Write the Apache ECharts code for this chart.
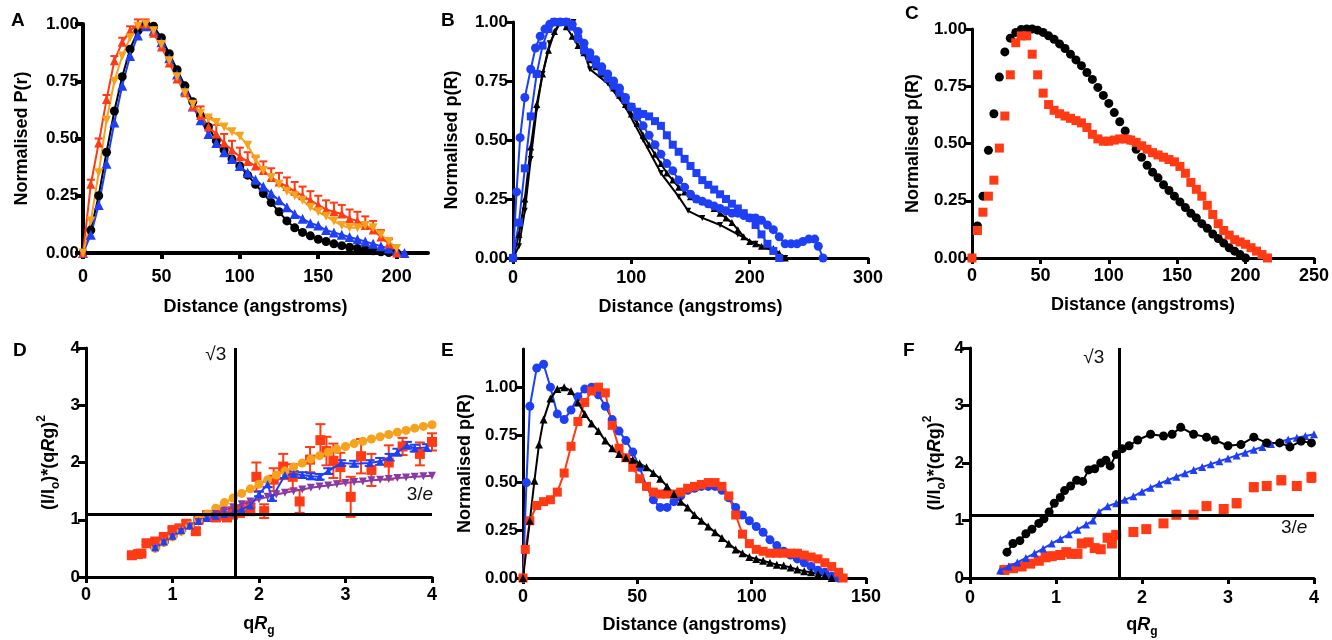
<!DOCTYPE html>
<html><head><meta charset="utf-8">
<script src="https://cdn.jsdelivr.net/npm/echarts@6/dist/echarts.min.js"></script>
<style>html,body{margin:0;padding:0;background:#fff}#c{width:1332px;height:640px}</style>
</head><body><div id="c"></div>
<script>
// ---------------- DATA ----------------
// Panel A
const A_x = [0,5,10,15,20,25,30,35,40,45,50,55,60,65,70,75,80,85,90,95,100,105,110,115,120,125,130,135,140,145,150,155,160,165,170,175,180,185,190,195,200];
const A_xBlue = [0,5,10,15,20,25,30,35,40,45,50,55,60,65,70,75,80,85,90,95,100,105,110,115,120,125,130,135,140,145,150,155,160,165,170,175,180,185,190,195,200,205];
const A_black = [0,0.1,0.25,0.44,0.62,0.77,0.89,0.97,1.0,0.99,0.94,0.87,0.8,0.73,0.66,0.6,0.55,0.49,0.45,0.41,0.38,0.34,0.3,0.26,0.22,0.18,0.14,0.11,0.09,0.075,0.06,0.05,0.04,0.032,0.025,0.02,0.015,0.01,0.005,0.002,0];
const A_blue = [0,0.08,0.21,0.39,0.57,0.73,0.86,0.95,0.99,0.97,0.92,0.85,0.78,0.71,0.64,0.58,0.52,0.48,0.44,0.41,0.38,0.35,0.32,0.29,0.26,0.23,0.2,0.17,0.15,0.13,0.12,0.1,0.09,0.08,0.07,0.06,0.05,0.04,0.03,0.02,0.01,0];
const A_red = [0,0.3,0.48,0.67,0.84,0.92,0.97,1.0,1.0,0.96,0.9,0.83,0.76,0.7,0.64,0.6,0.55,0.52,0.48,0.45,0.42,0.4,0.38,0.36,0.33,0.31,0.29,0.27,0.25,0.23,0.21,0.19,0.18,0.17,0.15,0.14,0.12,0.1,0.07,0.04,0];
const A_redErr = [0,0.02,0.02,0.02,0.02,0.02,0.02,0.02,0.02,0.02,0.02,0.02,0.03,0.03,0.03,0.04,0.04,0.04,0.04,0.04,0.04,0.04,0.04,0.04,0.04,0.04,0.04,0.04,0.04,0.04,0.04,0.04,0.04,0.04,0.04,0.04,0.04,0.04,0.03,0.02,0];
const A_orange = [0,0.14,0.35,0.58,0.75,0.86,0.94,0.99,1.0,0.97,0.91,0.84,0.77,0.7,0.65,0.61,0.59,0.57,0.55,0.53,0.51,0.47,0.41,0.36,0.33,0.3,0.27,0.25,0.23,0.2,0.18,0.16,0.14,0.12,0.11,0.11,0.12,0.11,0.08,0.05,0.02];

// Panel B
const B_xCirc = [0,3,6,10,15,19,23,27,31,35,40,45,50,55,60,65,70,75,80,85,90,95,100,105,110,115,120,125,130,135,140,145,150,155,160,165,170,175,180,185,190,195,200,205,210,215,220,225,230,235,240,245,250,255,258,262];
const B_blueCirc = [0,0.28,0.51,0.68,0.8,0.89,0.94,0.97,0.99,1.0,1.0,1.0,0.99,0.96,0.91,0.87,0.84,0.81,0.78,0.75,0.72,0.68,0.64,0.6,0.56,0.52,0.48,0.44,0.4,0.37,0.33,0.3,0.27,0.25,0.24,0.23,0.22,0.21,0.2,0.19,0.19,0.18,0.17,0.17,0.16,0.14,0.12,0.09,0.06,0.06,0.06,0.07,0.08,0.08,0.05,0];
const B_xSq = [0,5,10,15,20,25,30,35,40,45,50,55,60,65,70,75,80,85,90,95,100,105,110,115,120,125,130,135,140,145,150,155,160,165,170,175,180,185,190,195,200,205,210,215,220,225];
const B_blueSq = [0,0.15,0.38,0.6,0.78,0.9,0.97,1.0,1.0,1.0,0.98,0.93,0.88,0.85,0.82,0.79,0.76,0.73,0.7,0.67,0.64,0.62,0.61,0.6,0.58,0.56,0.52,0.48,0.45,0.42,0.39,0.36,0.33,0.31,0.29,0.27,0.25,0.23,0.21,0.19,0.17,0.14,0.1,0.06,0.03,0];
const B_xTri = [0,5,10,15,20,25,30,35,40,45,50,55,60,65,70,75,80,85,90,95,100,105,110,115,120,125,130,135,140,145,150,155,160,165,170,175,180,185,190,195,200,205,210,215,220,225,230];
const B_blackTri = [0,0.1,0.25,0.47,0.65,0.78,0.88,0.96,1.0,0.98,0.94,0.9,0.87,0.84,0.81,0.78,0.76,0.72,0.69,0.65,0.61,0.57,0.52,0.48,0.44,0.4,0.36,0.33,0.3,0.28,0.26,0.25,0.24,0.23,0.21,0.19,0.17,0.15,0.12,0.09,0.07,0.06,0.05,0.05,0.04,0.02,0];
const B_xLine = [0,5,10,15,20,25,31,40,51,65,80,95,110,125,140,148,160,175,190,205,220,230];
const B_blackLine = [0,0.05,0.2,0.42,0.63,0.78,0.91,1.0,1.0,0.8,0.74,0.64,0.5,0.36,0.26,0.2,0.17,0.14,0.1,0.06,0.03,0];

// Panel C
const C_xBlack = [0,4,8,12,16,20,24,28,32,36,40,44,48,52,56,60,64,68,72,76,80,84,88,92,96,100,104,108,112,116,120,124,128,132,136,140,144,148,152,156,160,164,168,172,176,180,184,188,192,196,200];
const C_black = [0,0.14,0.27,0.47,0.63,0.79,0.9,0.96,0.985,0.998,1.0,1.0,0.995,0.985,0.97,0.955,0.935,0.915,0.89,0.865,0.84,0.81,0.78,0.745,0.71,0.675,0.635,0.595,0.555,0.515,0.475,0.44,0.405,0.375,0.35,0.32,0.295,0.27,0.245,0.22,0.195,0.175,0.15,0.13,0.105,0.085,0.065,0.045,0.03,0.015,0];
const C_xRed = [0,4,8,12,16,20,24,28,32,36,40,44,48,52,56,60,64,68,72,76,80,84,88,92,96,100,104,108,112,116,120,124,128,132,136,140,144,148,152,156,160,164,168,172,176,180,184,188,192,196,200,204,208,212,216];
const C_red = [0,0.12,0.2,0.27,0.34,0.48,0.62,0.8,0.94,0.97,0.97,0.89,0.8,0.72,0.67,0.645,0.63,0.62,0.61,0.6,0.59,0.57,0.54,0.52,0.51,0.51,0.515,0.52,0.52,0.515,0.505,0.49,0.475,0.46,0.45,0.44,0.43,0.42,0.4,0.37,0.33,0.3,0.27,0.23,0.19,0.15,0.12,0.1,0.08,0.07,0.06,0.045,0.03,0.015,0];

// Panel D
const D_x = [0.8,0.9,1.0,1.1,1.2,1.3,1.4,1.5,1.6,1.7,1.8,1.9,2.0,2.1,2.2,2.3,2.4,2.5,2.6,2.7,2.8,2.9,3.0,3.1,3.2,3.3,3.4,3.5,3.6,3.7,3.8,3.9,4.0];
const D_orange = [0.5,0.6,0.7,0.8,0.9,1.0,1.1,1.2,1.3,1.38,1.46,1.54,1.62,1.7,1.78,1.85,1.92,1.99,2.06,2.12,2.18,2.23,2.28,2.33,2.37,2.41,2.45,2.49,2.53,2.56,2.6,2.63,2.66];
const D_purple = [0.5,0.6,0.7,0.79,0.88,0.96,1.03,1.1,1.16,1.22,1.27,1.32,1.36,1.4,1.44,1.47,1.5,1.53,1.56,1.58,1.6,1.62,1.64,1.66,1.67,1.69,1.7,1.71,1.73,1.74,1.75,1.76,1.77];
const D_xBlue = [0.8,0.9,1.0,1.1,1.2,1.3,1.4,1.5,1.6,1.7,1.8,1.9,2.0,2.1,2.15,2.3,2.4,2.5,2.6,2.7,2.8,2.95,3.1,3.28,3.4,3.51,3.6,3.71,3.8,3.94];
const D_blue = [0.52,0.62,0.72,0.82,0.9,0.98,1.03,1.07,1.1,1.12,1.18,1.25,1.45,1.62,1.38,1.78,1.8,1.78,1.76,1.75,1.85,1.99,1.98,1.99,2.02,2.09,2.18,2.3,2.25,2.26];
const D_blueErr = [0.02,0.02,0.02,0.02,0.02,0.02,0.02,0.02,0.03,0.03,0.03,0.03,0.04,0.05,0.05,0.05,0.05,0.05,0.05,0.05,0.05,0.05,0.05,0.05,0.06,0.06,0.06,0.06,0.06,0.06];
const D_xRed = [0.53,0.6,0.64,0.7,0.8,0.9,1.0,1.08,1.16,1.27,1.3,1.4,1.5,1.55,1.63,1.7,1.78,1.9,1.97,2.06,2.17,2.28,2.39,2.47,2.59,2.71,2.78,2.86,2.94,3.06,3.18,3.3,3.5,3.66,3.86,4.0];
const D_red = [0.38,0.4,0.41,0.59,0.62,0.7,0.82,0.85,0.93,0.8,1.0,1.08,1.05,1.1,1.05,1.12,1.15,1.2,1.75,1.15,1.7,1.93,1.75,1.32,2.05,2.39,2.2,2.03,1.92,1.4,2.11,1.87,2.0,2.28,2.15,2.36];
const D_redErr = [0.02,0.02,0.02,0.03,0.03,0.04,0.04,0.05,0.05,0.05,0.06,0.06,0.08,0.1,0.08,0.1,0.1,0.12,0.25,0.12,0.2,0.22,0.22,0.2,0.22,0.28,0.25,0.3,0.25,0.35,0.3,0.28,0.3,0.15,0.2,0.15];

// Panel E
const E_xBlue = [0,1.5,3,6,9,12,15,18,21,24,27,30,33,36,39,42,45,48,51,54,57,60,63,66,69,72,75,78,81,84,87,90,93,96,99,102,105,108,111,114,117,120,123,126,129,132,135,138];
const E_blue = [0,0.5,0.9,1.1,1.12,1.0,0.86,0.83,0.88,0.95,0.99,1.0,0.96,0.9,0.83,0.77,0.72,0.66,0.58,0.48,0.41,0.37,0.37,0.4,0.43,0.46,0.47,0.48,0.48,0.48,0.46,0.42,0.37,0.33,0.3,0.27,0.24,0.2,0.17,0.14,0.12,0.1,0.08,0.06,0.04,0.03,0.01,0];
const E_xRed = [0,1,3,6,9,12,15,18,21,24,27,30,33,36,39,42,45,48,51,54,57,60,63,66,69,72,75,78,81,84,87,90,93,96,99,102,105,108,111,114,117,120,123,126,129,132,135,138,140];
const E_red = [0,0.15,0.3,0.38,0.4,0.41,0.45,0.55,0.69,0.82,0.92,0.98,1.0,0.97,0.8,0.68,0.63,0.58,0.52,0.48,0.45,0.44,0.44,0.44,0.45,0.47,0.48,0.49,0.5,0.5,0.48,0.43,0.33,0.23,0.18,0.15,0.14,0.13,0.13,0.13,0.13,0.13,0.12,0.11,0.1,0.08,0.06,0.03,0];
const E_xBlack = [0,3,5,7,9,12,15,18,21,24,27,30,33,36,39,42,45,48,51,54,57,60,63,66,69,72,75,78,81,84,87,90,93,96,99,102,105,108,111,114,117,120,123,126,129,132,135];
const E_black = [0,0.3,0.51,0.7,0.83,0.94,0.99,1.0,0.98,0.92,0.86,0.81,0.77,0.72,0.68,0.65,0.63,0.62,0.6,0.58,0.55,0.52,0.48,0.44,0.4,0.37,0.33,0.3,0.27,0.24,0.21,0.18,0.15,0.13,0.11,0.1,0.09,0.08,0.07,0.065,0.055,0.045,0.035,0.03,0.02,0.01,0];

// Panel F
const F_xBlack = [0.43,0.5,0.58,0.65,0.72,0.8,0.86,0.92,0.98,1.05,1.1,1.17,1.24,1.31,1.38,1.45,1.52,1.58,1.63,1.7,1.77,1.85,1.95,2.1,2.25,2.35,2.45,2.6,2.75,2.85,3.0,3.15,3.3,3.45,3.6,3.72,3.85,3.97];
const F_black = [0.45,0.6,0.65,0.77,0.85,0.95,1.03,1.15,1.3,1.4,1.52,1.6,1.7,1.68,1.88,1.9,2.0,2.05,1.95,2.15,2.25,2.3,2.4,2.5,2.47,2.5,2.62,2.5,2.45,2.4,2.3,2.32,2.45,2.35,2.35,2.28,2.38,2.35];
const F_xBlue = [0.35,0.45,0.55,0.65,0.75,0.85,0.95,1.05,1.15,1.25,1.35,1.43,1.5,1.6,1.7,1.8,1.9,2.0,2.1,2.2,2.3,2.4,2.5,2.6,2.7,2.8,2.9,3.0,3.1,3.2,3.3,3.4,3.5,3.6,3.7,3.8,3.9,4.0];
const F_blue = [0.13,0.2,0.27,0.35,0.43,0.51,0.6,0.68,0.76,0.84,0.93,1.0,1.15,1.25,1.3,1.36,1.42,1.5,1.57,1.64,1.7,1.76,1.82,1.88,1.93,1.98,2.03,2.08,2.13,2.18,2.23,2.28,2.33,2.37,2.41,2.44,2.47,2.5];
const F_xRed = [0.4,0.5,0.6,0.7,0.8,0.88,0.95,1.05,1.12,1.18,1.25,1.3,1.38,1.45,1.52,1.6,1.65,1.7,1.9,2.05,2.25,2.4,2.6,2.75,2.95,3.1,3.3,3.45,3.62,3.8,3.97];
const F_red = [0.14,0.17,0.2,0.25,0.3,0.36,0.38,0.4,0.45,0.42,0.42,0.6,0.62,0.52,0.5,0.7,0.6,0.75,0.8,0.85,0.95,1.1,1.1,1.25,1.2,1.3,1.58,1.6,1.7,1.6,1.75];
const F_redErr = [0.02,0.02,0.02,0.02,0.02,0.03,0.03,0.03,0.03,0.03,0.03,0.04,0.04,0.04,0.04,0.05,0.05,0.05,0.05,0.05,0.05,0.06,0.06,0.06,0.06,0.07,0.07,0.07,0.07,0.07,0.08];

// Axis tick labels
const ticksA = [0,50,100,150,200];
const ticksB = [0,100,200,300];
const ticksC = [0,50,100,150,200,250];
const ticksE = [0,50,100,150];
const ticksQ = [0,1,2,3,4];
const ticksNorm = [0,0.25,0.5,0.75,1.0];

// Reference lines and their labels
const SQRT3 = 1.732;
const THREE_E = 1.104;
const D_notes = [[1.5,3.88,'√3'],[3.86,1.43,'3/{i|e}']];
const F_notes = [[1.44,3.83,'√3'],[3.77,0.87,'3/{i|e}']];

// ---------------- CHART ----------------
const FONT = '"Liberation Sans", Arial, Helvetica, sans-serif';
const BLUE = '#1f3ff5', RED = '#ff3a14', ORANGE = '#f7a21c', PURPLE = '#8a3aa6', BLACK = '#000';
const pairs = (xs, ys) => xs.map((x, i) => [x, ys[i]]);
const triples = (xs, ys, es) => xs.map((x, i) => [x, ys[i], es[i]]);

const grids = [
  {left: 83, top: 24, width: 345, height: 229},
  {left: 513, top: 22, width: 355, height: 236},
  {left: 972, top: 29, width: 345, height: 229},
  {left: 86, top: 348, width: 346, height: 229},
  {left: 523, top: 349, width: 343, height: 229},
  {left: 970, top: 348, width: 344, height: 230}
];

const richName = {
  sub: {fontSize: 12, fontWeight: 'bold', fontFamily: FONT, color: '#000', verticalAlign: 'bottom', lineHeight: 11},
  sup: {fontSize: 12, fontWeight: 'bold', fontFamily: FONT, color: '#000', verticalAlign: 'top', lineHeight: 11},
  it: {fontSize: 18, fontWeight: 'bold', fontStyle: 'italic', fontFamily: FONT, color: '#000'}
};

function axis(gi, isX, min, max, interval, vals, name, nameGap, labelMargin, fmt, lw) {
  return {
    type: 'value', gridIndex: gi, min, max, interval,
    name, nameLocation: 'middle', nameGap,
    nameTextStyle: {color: '#000', fontSize: 18, fontWeight: 'bold', fontFamily: FONT, lineHeight: 26, rich: richName},
    axisLine: {show: true, onZero: false, lineStyle: {color: '#000', width: lw || 3}},
    axisTick: {show: true, length: isX ? 6 : 8, customValues: vals, lineStyle: {color: '#000', width: lw || 3}},
    axisLabel: {customValues: vals, color: '#000', fontSize: isX ? 18 : 17, fontWeight: 'bold', fontFamily: FONT, margin: labelMargin, formatter: fmt},
    splitLine: {show: false}
  };
}
const f2 = v => Number(v).toFixed(2);
const f0 = v => String(Math.round(v));

const xAxes = [
  axis(0, true, 0, 220, 50, ticksA, 'Distance (angstroms)', 41, 15, f0, 4),
  axis(1, true, 0, 300, 100, ticksB, 'Distance (angstroms)', 36, 11, f0),
  axis(2, true, 0, 250, 50, ticksC, 'Distance (angstroms)', 34, 9, f0),
  axis(3, true, 0, 4, 1, ticksQ, 'q{it|R}{sub|g}', 34, 9, f0),
  axis(4, true, 0, 150, 50, ticksE, 'Distance (angstroms)', 34, 10, f0),
  axis(5, true, 0, 4, 1, ticksQ, 'q{it|R}{sub|g}', 34, 11, f0)
];
const yAxes = [
  axis(0, false, 0, 1, 0.25, ticksNorm, 'Normalised P(r)', 48, 4, f2, 4),
  axis(1, false, 0, 1, 0.25, ticksNorm, 'Normalised p(R)', 48, 5, f2),
  axis(2, false, 0, 1, 0.25, ticksNorm, 'Normalised p(R)', 46, 5, f2),
  axis(3, false, 0, 4, 1, ticksQ, '(I/I{sub|o})*(q{it|R}g){sup|2}', 24, 6, f0),
  axis(4, false, 0, 1.2, 0.25, ticksNorm, 'Normalised p(R)', 45, 5, f2),
  axis(5, false, 0, 4, 1, ticksQ, '(I/I{sub|o})*(q{it|R}g){sup|2}', 22, 6, f0)
];

function line(gi, data, color, symbol, size, opts) {
  return Object.assign({
    type: 'line', xAxisIndex: gi, yAxisIndex: gi, data, symbol, symbolSize: size,
    showSymbol: true, showAllSymbol: true, animation: false, silent: true,
    lineStyle: {color, width: 2}, itemStyle: {color, borderWidth: 0}
  }, opts || {});
}
function scat(gi, data, color, symbol, size, opts) {
  return Object.assign({
    type: 'scatter', xAxisIndex: gi, yAxisIndex: gi, data, symbol, symbolSize: size,
    animation: false, silent: true, itemStyle: {color, opacity: 1}
  }, opts || {});
}
function errBars(gi, data, color, capW, upperOnly) {
  return {
    type: 'custom', xAxisIndex: gi, yAxisIndex: gi, data, silent: true, animation: false,
    encode: {x: 0, y: 1},
    renderItem(params, api) {
      const x = api.value(0), y = api.value(1), e = api.value(2);
      if (!e) return null;
      const top = api.coord([x, y + e]);
      const bot = api.coord([x, upperOnly ? y : y - e]);
      const st = {stroke: color, lineWidth: 2};
      const ch = [
        {type: 'line', shape: {x1: top[0], y1: top[1], x2: bot[0], y2: bot[1]}, style: st},
        {type: 'line', shape: {x1: top[0] - capW, y1: top[1], x2: top[0] + capW, y2: top[1]}, style: st}
      ];
      if (!upperOnly) ch.push({type: 'line', shape: {x1: bot[0] - capW, y1: bot[1], x2: bot[0] + capW, y2: bot[1]}, style: st});
      return {type: 'group', children: ch};
    }
  };
}
function notes(gi, data) {
  return {
    type: 'scatter', xAxisIndex: gi, yAxisIndex: gi, data, symbolSize: 0.1, silent: true, animation: false,
    itemStyle: {color: '#000', opacity: 1},
    label: {show: true, position: 'inside', formatter: p => p.value[2], color: '#111', opacity: 1, fontSize: 19, fontFamily: FONT,
      textBorderWidth: 0,
      rich: {i: {fontStyle: 'italic', fontSize: 19, fontFamily: FONT, color: '#111'}}},
    markLine: {silent: true, symbol: 'none', animation: false, label: {show: false},
      lineStyle: {color: '#000', width: 3, type: 'solid', opacity: 1},
      data: [{xAxis: SQRT3}, {yAxis: THREE_E}]}
  };
}
const invTri = {symbolRotate: 180};

const series = [
  // A
  line(0, pairs(A_x, A_black), BLACK, 'circle', 9),
  line(0, pairs(A_xBlue, A_blue), BLUE, 'triangle', 10),
  errBars(0, triples(A_x, A_red, A_redErr), RED, 4, true),
  line(0, pairs(A_x, A_red), RED, 'triangle', 9),
  line(0, pairs(A_x, A_orange), ORANGE, 'triangle', 9, invTri),
  // B
  line(1, pairs(B_xLine, B_blackLine), BLACK, 'triangle', 6, invTri),
  line(1, pairs(B_xTri, B_blackTri), BLACK, 'triangle', 7),
  line(1, pairs(B_xSq, B_blueSq), BLUE, 'rect', 8),
  line(1, pairs(B_xCirc, B_blueCirc), BLUE, 'circle', 9),
  // C
  scat(2, pairs(C_xBlack, C_black), BLACK, 'circle', 9),
  scat(2, pairs(C_xRed, C_red), RED, 'rect', 9),
  // D
  line(3, pairs(D_x, D_orange), ORANGE, 'circle', 9),
  scat(3, pairs(D_xRed, D_red), RED, 'rect', 10),
  errBars(3, triples(D_xRed, D_red, D_redErr), RED, 5, false),
  line(3, pairs(D_x, D_purple), PURPLE, 'triangle', 8, invTri),
  line(3, pairs(D_xBlue, D_blue), BLUE, 'triangle', 8),
  errBars(3, triples(D_xBlue, D_blue, D_blueErr), BLUE, 5, false),
  notes(3, D_notes),
  // E
  line(4, pairs(E_xBlue, E_blue), BLUE, 'circle', 9),
  line(4, pairs(E_xRed, E_red), RED, 'rect', 9),
  line(4, pairs(E_xBlack, E_black), BLACK, 'triangle', 8),
  // F
  scat(5, pairs(F_xRed, F_red), RED, 'rect', 10),
  errBars(5, triples(F_xRed, F_red, F_redErr), RED, 4, false),
  line(5, pairs(F_xBlue, F_blue), BLUE, 'triangle', 8),
  line(5, pairs(F_xBlack, F_black), BLACK, 'circle', 9),
  notes(5, F_notes)
];

const letters = [['A', 18, 22], ['B', 448, 22], ['C', 912, 15], ['D', 20, 352], ['E', 448, 352], ['F', 910, 352]];

const chart = echarts.init(document.getElementById('c'), null, {renderer: 'canvas'});
chart.setOption({
  backgroundColor: '#fff',
  animation: false,
  grid: grids,
  xAxis: xAxes,
  yAxis: yAxes,
  series,
  graphic: letters.map(([t, x, y]) => ({
    type: 'text', left: x - 7, top: y - 11,
    style: {text: t, fontSize: 19, fontWeight: 'bold', fontFamily: FONT, fill: '#000'}
  }))
});
</script>
</body></html>
